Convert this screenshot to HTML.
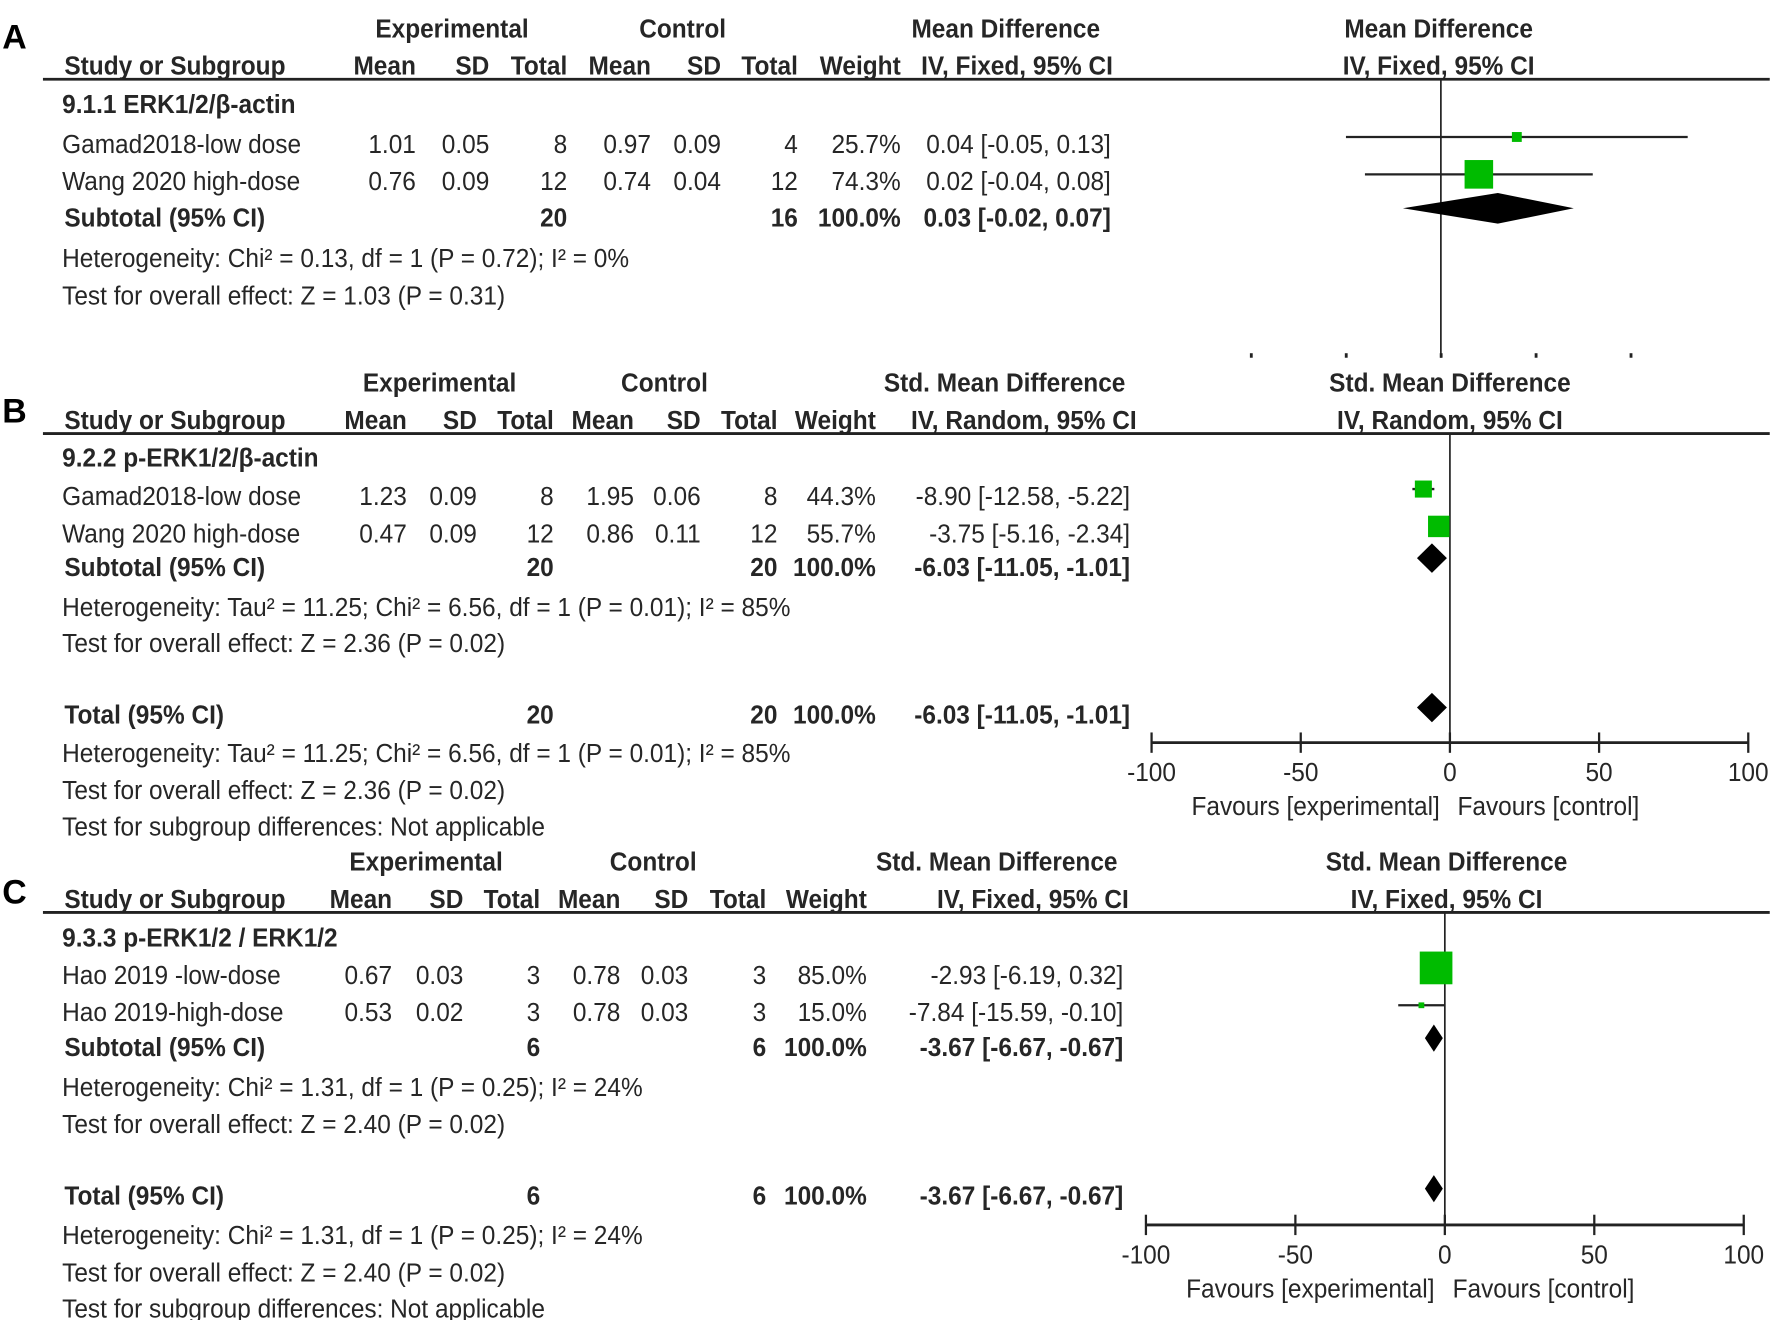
<!DOCTYPE html>
<html><head><meta charset="utf-8">
<style>
html,body{margin:0;padding:0;background:#fff;}
svg{display:block;}
text{font-family:"Liberation Sans Narrow","Liberation Sans",sans-serif;fill:#262626;}
</style></head>
<body>
<svg id="fig" xmlns="http://www.w3.org/2000/svg" width="1772" height="1320" viewBox="0 0 1568 1166" preserveAspectRatio="none">
<rect x="0" y="0" width="1568" height="1166" fill="#fff"/>
<g id="txt" transform="scale(0.94,1)"></g>
<g id="marks"></g>
</svg>
<script>
// ---------- data ----------
const panelLetters = ["A","B","C"];
// Panel A: Mean Difference, IV Fixed
const aStudies = ["Gamad2018-low dose","Wang 2020 high-dose"];
const aMD = [0.04, 0.02];
const aLo = [-0.05, -0.04];
const aHi = [0.13, 0.08];
const aWeight = [25.7, 74.3];
const aSub = [0.03, -0.02, 0.07];
const aTicks = [-0.1, -0.05, 0, 0.05, 0.1];
// Panel B: Std. Mean Difference, IV Random
const bStudies = ["Gamad2018-low dose","Wang 2020 high-dose"];
const bMD = [-8.90, -3.75];
const bLo = [-12.58, -5.16];
const bHi = [-5.22, -2.34];
const bWeight = [44.3, 55.7];
const bSub = [-6.03, -11.05, -1.01];
const bTotal = [-6.03, -11.05, -1.01];
const bTicks = [-100, -50, 0, 50, 100];
const bTickLabels = ["-100","-50","0","50","100"];
// Panel C: Std. Mean Difference, IV Fixed
const cStudies = ["Hao 2019 -low-dose","Hao 2019-high-dose"];
const cMD = [-2.93, -7.84];
const cLo = [-6.19, -15.59];
const cHi = [0.32, -0.10];
const cWeight = [85.0, 15.0];
const cSub = [-3.67, -6.67, -0.67];
const cTotal = [-3.67, -6.67, -0.67];
const cTicks = [-100, -50, 0, 50, 100];
const cTickLabels = ["-100","-50","0","50","100"];

const NS = "http://www.w3.org/2000/svg";
const TX = document.getElementById('txt');
const MK = document.getElementById('marks');
const SX = 0.94;

function T(x, y, s, anchor, bold, name, size){
  const e = document.createElementNS(NS,'text');
  e.setAttribute('x', (x/SX).toFixed(1));
  e.setAttribute('y', y + 8);
  e.setAttribute('font-size', size || 23);
  if (anchor) e.setAttribute('text-anchor', anchor);
  if (bold) e.setAttribute('font-weight', 'bold');
  e.textContent = s;
  
  
  TX.appendChild(e);
  return e;
}
function L(x1,y1,x2,y2,w,name,col){
  const e = document.createElementNS(NS,'line');
  e.setAttribute('x1',x1);e.setAttribute('y1',y1);e.setAttribute('x2',x2);e.setAttribute('y2',y2);
  e.setAttribute('stroke', col||'#222');e.setAttribute('stroke-width', w);
  
  
  MK.appendChild(e);
  return e;
}
function R(x,y,w,h,fill,name){
  const e = document.createElementNS(NS,'rect');
  e.setAttribute('x',x);e.setAttribute('y',y);e.setAttribute('width',w);e.setAttribute('height',h);
  e.setAttribute('fill',fill);
  
  
  MK.appendChild(e);
  return e;
}
function D(xl,xc,xr,y,h,name){
  const e = document.createElementNS(NS,'polygon');
  e.setAttribute('points', `${xl},${y} ${xc},${y-h/2} ${xr},${y} ${xc},${y+h/2}`);
  e.setAttribute('fill','#000');
  
  
  MK.appendChild(e);
  return e;
}
function fmt(v){ return v.toFixed(2); }
function ci(m,l,h){ return `${fmt(m)} [${fmt(l)}, ${fmt(h)}]`; }

// panel letters
const letterY = [32, 362, 787];
panelLetters.forEach((p,i)=>{
  const e = document.createElementNS(NS,'text');
  e.setAttribute('x', 2); e.setAttribute('y', letterY[i]+11);
  e.setAttribute('font-size', 30); e.setAttribute('font-weight','bold');
  e.setAttribute('style','font-family:"Liberation Sans",sans-serif;fill:#000');
  e.textContent = p;
  
  
  MK.appendChild(e);
});

function panel(cfg){
  const c = cfg.cols;
  T(c.expC, cfg.h1, "Experimental", "middle", true, 'experimental-header');
  T(c.ctlC, cfg.h1, "Control", "middle", true, 'control-header');
  T(c.ciC, cfg.h1, cfg.effName, "middle", true, 'effect-header');
  T(cfg.plotC, cfg.h1, cfg.effName, "middle", true, 'plot-effect-header');
  T(57, cfg.h2, "Study or Subgroup", null, true, 'study-column-header');
  T(c.m1, cfg.h2, "Mean", "end", true, 'exp-mean-header');
  T(c.s1, cfg.h2, "SD", "end", true, 'exp-sd-header');
  T(c.t1, cfg.h2, "Total", "end", true, 'exp-total-header');
  T(c.m2, cfg.h2, "Mean", "end", true, 'ctl-mean-header');
  T(c.s2, cfg.h2, "SD", "end", true, 'ctl-sd-header');
  T(c.t2, cfg.h2, "Total", "end", true, 'ctl-total-header');
  T(c.w, cfg.h2, "Weight", "end", true, 'weight-header');
  T(c.ciH, cfg.h2, cfg.method, "middle", true, 'method-header');
  T(cfg.plotC, cfg.h2, cfg.method, "middle", true, 'plot-method-header');
  L(38, cfg.line, 1566, cfg.line, 2.5, 'header-rule');
  T(55, cfg.sg, cfg.sgName, null, true, 'subgroup-title');
  cfg.rows.forEach((r,i)=>{
    const y = cfg.rowY[i];
    T(55, y, cfg.studies[i], null, false, 'study-name');
    T(c.m1, y, r[0], "end", false, 'exp-mean');
    T(c.s1, y, r[1], "end", false, 'exp-sd');
    T(c.t1, y, r[2], "end", false, 'exp-total');
    T(c.m2, y, r[3], "end", false, 'ctl-mean');
    T(c.s2, y, r[4], "end", false, 'ctl-sd');
    T(c.t2, y, r[5], "end", false, 'ctl-total');
    T(c.w, y, cfg.weight[i].toFixed(1)+"%", "end", false, 'weight-value');
    T(c.ci, y, ci(cfg.md[i], cfg.lo[i], cfg.hi[i]), "end", false, 'ci-value');
  });
  const subRows = [[cfg.subY, "Subtotal (95% CI)", cfg.sub]];
  if (cfg.total) subRows.push([cfg.totY, "Total (95% CI)", cfg.total]);
  subRows.forEach(([y,lab,v])=>{
    T(57, y, lab, null, true, 'subtotal-label');
    T(c.t1, y, cfg.n1, "end", true, 'exp-total-sum');
    T(c.t2, y, cfg.n2, "end", true, 'ctl-total-sum');
    T(c.w, y, "100.0%", "end", true, 'weight-sum');
    T(c.ci, y, ci(v[0], v[1], v[2]), "end", true, 'pooled-ci');
  });
  cfg.notes.forEach(([y,s])=>T(55, y, s, null, false, 'statistics-note'));

  // forest plot
  const xs = v => cfg.x0 + v*cfg.k;
  L(xs(0), cfg.line, xs(0), cfg.vEnd, 1.5, 'zero-line');
  cfg.md.forEach((m,i)=>{
    const y = cfg.rowY[i]-6;
    L(xs(cfg.lo[i]), y, xs(cfg.hi[i]), y, 2, 'ci-whisker');
    const s = 0.34*cfg.weight[i];
    R(xs(m)-s/2, y-s/2, s, s, '#00bb00', 'study-square');
  });
  D(xs(cfg.sub[1]), xs(cfg.sub[0]), xs(cfg.sub[2]), cfg.subY-8, cfg.dh, 'subtotal-diamond');
  if (cfg.total) D(xs(cfg.total[1]), xs(cfg.total[0]), xs(cfg.total[2]), cfg.totY-6, cfg.dh, 'total-diamond');
  if (cfg.axis) {
    const ay = cfg.axisY;
    L(xs(cfg.ticks[0]), ay, xs(cfg.ticks[cfg.ticks.length-1]), ay, 2.5, 'x-axis');
    cfg.ticks.forEach((t,i)=>{
      L(xs(t), ay-9, xs(t), ay+9, 2, 'x-tick');
      T(xs(t), ay+26, cfg.tickLabels[i], "middle", false, 'x-tick-label');
    });
    T(xs(-45), ay+56, "Favours [experimental]", "middle", false, 'favours-experimental');
    T(xs(33), ay+56, "Favours [control]", "middle", false, 'favours-control');
  } else {
    cfg.ticks.forEach(t=>{ R(xs(t)-1, 312, 2.5, 4, '#222', 'x-tick-dot'); });
  }
}

panel({
  h1:25, h2:58, line:70, sg:92, rowY:[127,160], subY:192,
  effName:"Mean Difference", method:"IV, Fixed, 95% CI", plotC:1273,
  cols:{expC:400, ctlC:604, ciC:890, m1:368, s1:433, t1:502, m2:576, s2:638, t2:706, w:797, ci:983, ciH:900},
  sgName:"9.1.1 ERK1/2/\u03b2-actin", studies:aStudies,
  rows:[["1.01","0.05","8","0.97","0.09","4"],["0.76","0.09","12","0.74","0.04","12"]],
  md:aMD, lo:aLo, hi:aHi, weight:aWeight, sub:aSub, total:null, n1:"20", n2:"16",
  notes:[[228,"Heterogeneity: Chi\u00b2 = 0.13, df = 1 (P = 0.72); I\u00b2 = 0%"],[261,"Test for overall effect: Z = 1.03 (P = 0.31)"]],
  x0:1275, k:1680, vEnd:316, dh:27, ticks:aTicks, axis:false
});

panel({
  h1:338, h2:371, line:383, sg:404, rowY:[438,471], subY:501, totY:631,
  effName:"Std. Mean Difference", method:"IV, Random, 95% CI", plotC:1283,
  cols:{expC:389, ctlC:588, ciC:889, m1:360, s1:422, t1:490, m2:561, s2:620, t2:688, w:775, ci:1000, ciH:906},
  sgName:"9.2.2 p-ERK1/2/\u03b2-actin", studies:bStudies,
  rows:[["1.23","0.09","8","1.95","0.06","8"],["0.47","0.09","12","0.86","0.11","12"]],
  md:bMD, lo:bLo, hi:bHi, weight:bWeight, sub:bSub, total:bTotal, n1:"20", n2:"20",
  notes:[[536,"Heterogeneity: Tau\u00b2 = 11.25; Chi\u00b2 = 6.56, df = 1 (P = 0.01); I\u00b2 = 85%"],[568,"Test for overall effect: Z = 2.36 (P = 0.02)"],
         [665,"Heterogeneity: Tau\u00b2 = 11.25; Chi\u00b2 = 6.56, df = 1 (P = 0.01); I\u00b2 = 85%"],[698,"Test for overall effect: Z = 2.36 (P = 0.02)"],[730,"Test for subgroup differences: Not applicable"]],
  x0:1283, k:2.64, vEnd:656, dh:26, ticks:bTicks, tickLabels:bTickLabels, axis:true, axisY:656
});

panel({
  h1:761, h2:794, line:806, sg:828, rowY:[861,894], subY:925, totY:1056,
  effName:"Std. Mean Difference", method:"IV, Fixed, 95% CI", plotC:1280,
  cols:{expC:377, ctlC:578, ciC:882, m1:347, s1:410, t1:478, m2:549, s2:609, t2:678, w:767, ci:994, ciH:914},
  sgName:"9.3.3 p-ERK1/2 / ERK1/2", studies:cStudies,
  rows:[["0.67","0.03","3","0.78","0.03","3"],["0.53","0.02","3","0.78","0.03","3"]],
  md:cMD, lo:cLo, hi:cHi, weight:cWeight, sub:cSub, total:cTotal, n1:"6", n2:"6",
  notes:[[960,"Heterogeneity: Chi\u00b2 = 1.31, df = 1 (P = 0.25); I\u00b2 = 24%"],[993,"Test for overall effect: Z = 2.40 (P = 0.02)"],
         [1091,"Heterogeneity: Chi\u00b2 = 1.31, df = 1 (P = 0.25); I\u00b2 = 24%"],[1124,"Test for overall effect: Z = 2.40 (P = 0.02)"],[1156,"Test for subgroup differences: Not applicable"]],
  x0:1278.5, k:2.645, vEnd:1082, dh:24, ticks:cTicks, tickLabels:cTickLabels, axis:true, axisY:1082
});
</script>
</body></html>
